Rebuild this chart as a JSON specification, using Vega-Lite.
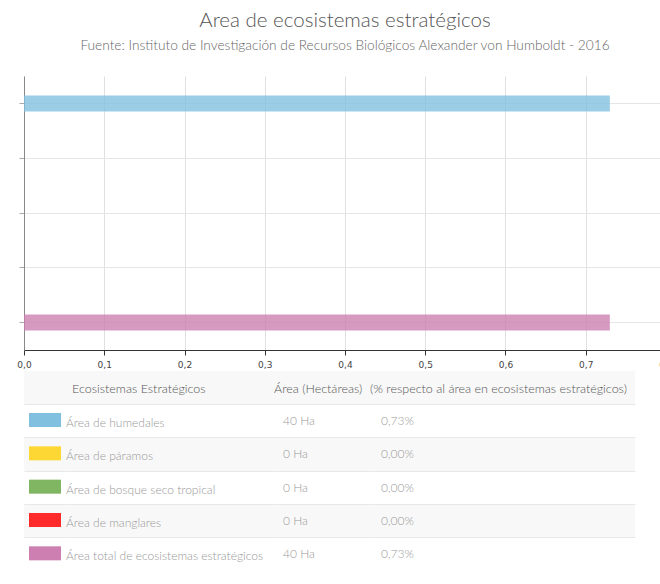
{
  "$schema": "https://vega.github.io/schema/vega-lite/v6.json",
  "background": "white",
  "padding": {"left": 16, "top": 10, "right": 0, "bottom": 0},
  "title": {
    "text": "Area de ecosistemas estratégicos",
    "subtitle": "Fuente: Instituto de Investigación de Recursos Biológicos Alexander von Humboldt - 2016",
    "anchor": "middle",
    "font": "Lato",
    "fontSize": 20.5,
    "fontWeight": 300,
    "color": "#555555",
    "subtitleFont": "Lato",
    "subtitleFontSize": 13.7,
    "subtitleFontWeight": 300,
    "subtitleColor": "#666666",
    "subtitlePadding": 8,
    "offset": 23
  },
  "datasets": {
    "eco": [
      {"ecosistema": "Área de humedales", "area": 0.73, "hectareas": "40 Ha", "porcentaje": "0,73%"},
      {"ecosistema": "Área de páramos", "area": 0, "hectareas": "0 Ha", "porcentaje": "0,00%"},
      {"ecosistema": "Área de bosque seco tropical", "area": 0, "hectareas": "0 Ha", "porcentaje": "0,00%"},
      {"ecosistema": "Área de manglares", "area": 0, "hectareas": "0 Ha", "porcentaje": "0,00%"},
      {"ecosistema": "Área total de ecosistemas estratégicos", "area": 0.73, "hectareas": "40 Ha", "porcentaje": "0,73%"}
    ],
    "encabezado": [
      {"ecosistema": "encabezado", "nombre": "Ecosistemas Estratégicos", "hectareas": "Área (Hectáreas)", "porcentaje": "(% respecto al área en ecosistemas estratégicos)"}
    ]
  },
  "spacing": 2,
  "vconcat": [
    {
      "width": 642,
      "height": 274,
      "data": {"name": "eco"},
      "mark": {"type": "bar", "height": 16, "opacity": 0.8},
      "encoding": {
        "y": {
          "field": "ecosistema", "type": "nominal",
          "sort": ["Área de humedales", "Área de páramos", "Área de bosque seco tropical", "Área de manglares", "Área total de ecosistemas estratégicos"],
          "scale": {"paddingInner": 0, "paddingOuter": 0},
          "axis": {"title": null, "labels": false, "bandPosition": 0.5, "grid": true, "gridColor": "#e6e6e6", "domainColor": "#888888", "tickColor": "#aaaaaa", "tickSize": 5, "minExtent": 5, "maxExtent": 5}
        },
        "x": {
          "field": "area", "type": "quantitative",
          "scale": {"domain": [0, 0.8], "nice": false},
          "axis": {"title": null, "values": [0, 0.1, 0.2, 0.3, 0.4, 0.5, 0.6, 0.7, 0.8], "labelExpr": "replace(format(datum.value, '.1f'), '.', ',')", "grid": true, "gridColor": "#e0e0e0", "domainColor": "#333333", "tickColor": "#333333", "tickSize": 5, "labelFont": "DejaVu Sans", "labelFontSize": 9, "labelColor": "#444444", "labelPadding": 5, "labelFlush": false}
        },
        "color": {
          "field": "ecosistema", "type": "nominal",
          "scale": {"domain": ["Área de humedales", "Área de páramos", "Área de bosque seco tropical", "Área de manglares", "Área total de ecosistemas estratégicos"], "range": ["#82c0e0", "#fdd835", "#80b662", "#ff2b2b", "#cc7fb0"]},
          "legend": null
        }
      }
    },
    {
      "spacing": 0,
      "hconcat": [
        {
          "width": 42, "height": 200,
          "layer": [
            {"data": {"name": "encabezado"}, "mark": {"type": "bar", "color": "#f8f8f8"},
             "encoding": {"y": {"field": "ecosistema", "type": "nominal", "scale": {"domain": ["encabezado", "Área de humedales", "Área de páramos", "Área de bosque seco tropical", "Área de manglares", "Área total de ecosistemas estratégicos"], "paddingInner": 0, "paddingOuter": 0},
               "axis": {"title": null, "labels": false, "ticks": false, "domain": false, "grid": true, "gridColor": "#e8e8e8", "bandPosition": 1, "values": ["encabezado", "Área de humedales", "Área de páramos", "Área de bosque seco tropical", "Área de manglares"], "minExtent": 5, "maxExtent": 5, "zindex": 1}}}},
            {"data": {"name": "eco"}, "transform": [{"filter": {"field": "ecosistema", "oneOf": ["Área de páramos", "Área de manglares"]}}], "mark": {"type": "bar", "color": "#f8f8f8"},
             "encoding": {"y": {"field": "ecosistema", "type": "nominal"}}},
            {"data": {"name": "eco"}, "mark": {"type": "point", "shape": "M-1,-0.4375H1V0.4375H-1Z", "size": 1024, "filled": true, "opacity": 1, "yOffset": -1},
             "encoding": {"y": {"field": "ecosistema", "type": "nominal"},
               "color": {"field": "ecosistema", "type": "nominal", "scale": {"domain": ["Área de humedales", "Área de páramos", "Área de bosque seco tropical", "Área de manglares", "Área total de ecosistemas estratégicos"], "range": ["#82c0e0", "#fdd835", "#80b662", "#ff2b2b", "#cc7fb0"]}, "legend": null}}}
          ]
        },
        {
          "width": 208, "height": 200,
          "layer": [
            {"data": {"name": "encabezado"}, "mark": {"type": "bar", "color": "#f8f8f8"},
             "encoding": {"y": {"field": "ecosistema", "type": "nominal", "scale": {"domain": ["encabezado", "Área de humedales", "Área de páramos", "Área de bosque seco tropical", "Área de manglares", "Área total de ecosistemas estratégicos"], "paddingInner": 0, "paddingOuter": 0},
               "axis": {"title": null, "labels": false, "ticks": false, "domain": false, "grid": true, "gridColor": "#e8e8e8", "bandPosition": 1, "values": ["encabezado", "Área de humedales", "Área de páramos", "Área de bosque seco tropical", "Área de manglares"], "minExtent": 0, "maxExtent": 0, "zindex": 1}}}},
            {"data": {"name": "eco"}, "transform": [{"filter": {"field": "ecosistema", "oneOf": ["Área de páramos", "Área de manglares"]}}], "mark": {"type": "bar", "color": "#f8f8f8"},
             "encoding": {"y": {"field": "ecosistema", "type": "nominal"}}},
            {"data": {"name": "encabezado"}, "mark": {"type": "text", "align": "left", "font": "Lato", "fontWeight": 300, "fontSize": 12.5, "color": "#555555", "dx": 6, "dy": 1},
             "encoding": {"y": {"field": "ecosistema", "type": "nominal"}, "x": {"datum": "c", "type": "nominal", "scale": {"type": "point", "align": 0, "padding": 0}, "axis": null}, "text": {"field": "nombre"}}},
            {"data": {"name": "eco"}, "mark": {"type": "text", "align": "left", "font": "Lato", "fontWeight": 300, "fontSize": 12, "color": "#999999", "dy": 2},
             "encoding": {"y": {"field": "ecosistema", "type": "nominal"}, "x": {"datum": "c", "type": "nominal"}, "text": {"field": "ecosistema"}}}
          ]
        },
        {
          "width": 96, "height": 200,
          "layer": [
            {"data": {"name": "encabezado"}, "mark": {"type": "bar", "color": "#f8f8f8"},
             "encoding": {"y": {"field": "ecosistema", "type": "nominal", "scale": {"domain": ["encabezado", "Área de humedales", "Área de páramos", "Área de bosque seco tropical", "Área de manglares", "Área total de ecosistemas estratégicos"], "paddingInner": 0, "paddingOuter": 0},
               "axis": {"title": null, "labels": false, "ticks": false, "domain": false, "grid": true, "gridColor": "#e8e8e8", "bandPosition": 1, "values": ["encabezado", "Área de humedales", "Área de páramos", "Área de bosque seco tropical", "Área de manglares"], "minExtent": 0, "maxExtent": 0, "zindex": 1}}}},
            {"data": {"name": "eco"}, "transform": [{"filter": {"field": "ecosistema", "oneOf": ["Área de páramos", "Área de manglares"]}}], "mark": {"type": "bar", "color": "#f8f8f8"},
             "encoding": {"y": {"field": "ecosistema", "type": "nominal"}}},
            {"data": {"name": "encabezado"}, "mark": {"type": "text", "align": "left", "font": "Lato", "fontWeight": 300, "fontSize": 12.5, "color": "#555555", "dy": 1},
             "encoding": {"y": {"field": "ecosistema", "type": "nominal"}, "x": {"datum": "c", "type": "nominal", "scale": {"type": "point", "align": 0, "padding": 0}, "axis": null}, "text": {"field": "hectareas"}}},
            {"data": {"name": "eco"}, "mark": {"type": "text", "align": "left", "font": "Lato", "fontWeight": 300, "fontSize": 12, "color": "#999999", "dx": 9},
             "encoding": {"y": {"field": "ecosistema", "type": "nominal"}, "x": {"datum": "c", "type": "nominal"}, "text": {"field": "hectareas"}}}
          ]
        },
        {
          "width": 265, "height": 200,
          "layer": [
            {"data": {"name": "encabezado"}, "mark": {"type": "bar", "color": "#f8f8f8"},
             "encoding": {"y": {"field": "ecosistema", "type": "nominal", "scale": {"domain": ["encabezado", "Área de humedales", "Área de páramos", "Área de bosque seco tropical", "Área de manglares", "Área total de ecosistemas estratégicos"], "paddingInner": 0, "paddingOuter": 0},
               "axis": {"title": null, "labels": false, "ticks": false, "domain": false, "grid": true, "gridColor": "#e8e8e8", "bandPosition": 1, "values": ["encabezado", "Área de humedales", "Área de páramos", "Área de bosque seco tropical", "Área de manglares"], "minExtent": 0, "maxExtent": 0, "zindex": 1}}}},
            {"data": {"name": "eco"}, "transform": [{"filter": {"field": "ecosistema", "oneOf": ["Área de páramos", "Área de manglares"]}}], "mark": {"type": "bar", "color": "#f8f8f8"},
             "encoding": {"y": {"field": "ecosistema", "type": "nominal"}}},
            {"data": {"name": "encabezado"}, "mark": {"type": "text", "align": "left", "font": "Lato", "fontWeight": 300, "fontSize": 12.5, "color": "#555555", "dy": 1},
             "encoding": {"y": {"field": "ecosistema", "type": "nominal"}, "x": {"datum": "c", "type": "nominal", "scale": {"type": "point", "align": 0, "padding": 0}, "axis": null}, "text": {"field": "porcentaje"}}},
            {"data": {"name": "eco"}, "mark": {"type": "text", "align": "left", "font": "Lato", "fontWeight": 300, "fontSize": 12, "color": "#999999", "dx": 11},
             "encoding": {"y": {"field": "ecosistema", "type": "nominal"}, "x": {"datum": "c", "type": "nominal"}, "text": {"field": "porcentaje"}}}
          ]
        }
      ]
    }
  ],
  "config": {"view": {"stroke": null}}
}
